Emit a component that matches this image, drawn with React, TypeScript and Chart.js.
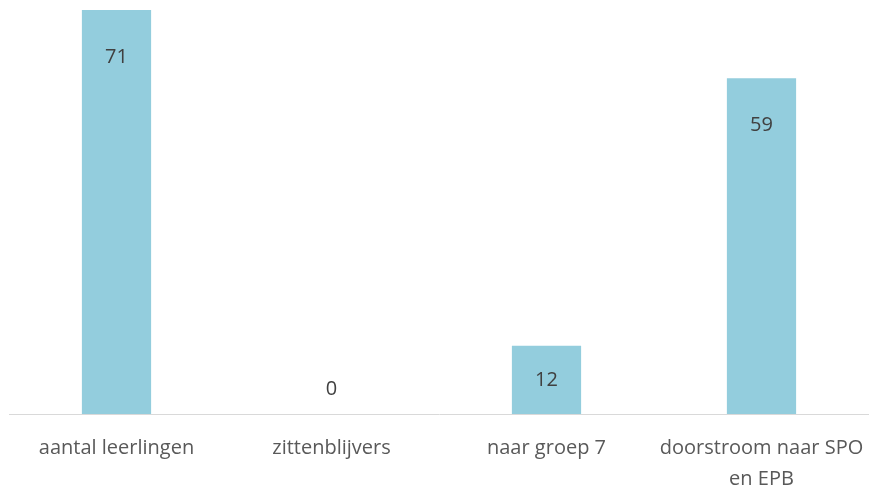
import React, { useEffect, useRef } from "react";
import { Chart, registerables } from "chart.js";

Chart.register(...registerables);

const categories: (string | string[])[] = [
  "aantal leerlingen",
  "zittenblijvers",
  "naar groep 7",
  ["doorstroom naar SPO", "en EPB"],
];
const values: number[] = [71, 0, 12, 59];

const FONT_FAMILY = "'Open Sans', 'Noto Sans', sans-serif";

const valueLabels = {
  id: "valueLabels",
  afterDatasetsDraw(chart: any) {
    const ctx = chart.ctx;
    const meta = chart.getDatasetMeta(0);
    ctx.save();
    ctx.font = `20px ${FONT_FAMILY}`;
    ctx.fillStyle = "#404040";
    ctx.textAlign = "center";
    ctx.textBaseline = "middle";
    meta.data.forEach((bar: any, i: number) => {
      const { x, y, base } = bar.getProps(["x", "y", "base"], true);
      const mid = (y + base) / 2;
      const ly = Math.min(y + 47, mid, base - 25);
      ctx.fillText(String(values[i]), x, ly);
    });
    ctx.restore();
  },
};

export default function App() {
  const ref = useRef<HTMLCanvasElement | null>(null);
  useEffect(() => {
    if (!ref.current) return;
    const chart = new Chart(ref.current, {
      type: "bar",
      data: {
        labels: categories,
        datasets: [
          {
            data: values,
            backgroundColor: "#93CDDD",
            borderWidth: 0,
            barPercentage: 0.322,
            categoryPercentage: 1,
          },
        ],
      },
      options: {
        animation: false,
        responsive: false,
        maintainAspectRatio: false,
        layout: { padding: { left: 9, right: 0, top: 10, bottom: 0 } },
        plugins: {
          legend: { display: false },
          tooltip: { enabled: false },
        },
        scales: {
          x: {
            grid: { display: false },
            border: { display: true, color: "#D9D9D9", width: 1 },
            ticks: {
              color: "#595959",
              font: { family: FONT_FAMILY, size: 20, lineHeight: 1.55 },
              padding: 11,
              maxRotation: 0,
              autoSkip: false,
            },
            afterFit: (scale: any) => {
              scale.height = 73;
              scale.paddingLeft = 0;
              scale.paddingRight = 0;
            },
          },
          y: {
            display: false,
            min: 0,
            max: 71,
          },
        },
      },
      plugins: [valueLabels],
    });
    return () => chart.destroy();
  }, []);
  return (
    <div style={{ position: "fixed", left: 0, top: 0, width: 869, height: 487, background: "#fff" }}>
      <canvas ref={ref} width={869} height={487} style={{ display: "block" }} />
    </div>
  );
}
